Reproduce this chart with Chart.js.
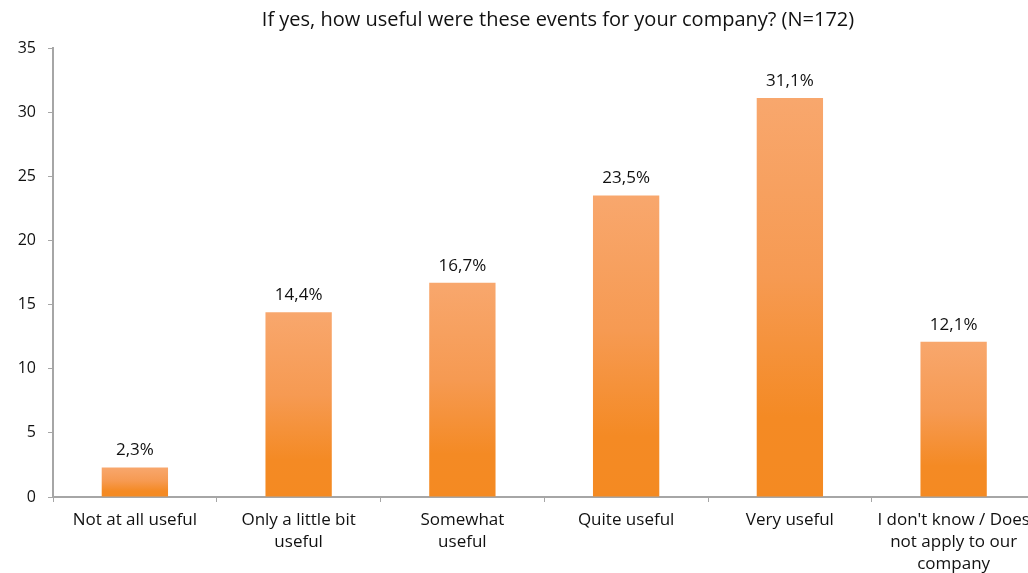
<!DOCTYPE html>
<html>
<head>
<meta charset="utf-8">
<script src="https://cdn.jsdelivr.net/npm/chart.js@4/dist/chart.umd.min.js"></script>
<style>
  html, body { margin: 0; padding: 0; background: #fff; overflow: hidden; }
  #wrap { width: 1040px; height: 573px; }
</style>
</head>
<body>
<div id="wrap"><canvas id="usefulChart" width="1040" height="573"></canvas></div>
<script>
const categories = [
    'Not at all useful',
    ['Only a little bit', 'useful'],
    ['Somewhat', 'useful'],
    'Quite useful',
    'Very useful',
    ['I don\'t know / Does', 'not apply to our', 'company']
];
const shares = [2.3, 14.4, 16.7, 23.5, 31.1, 12.1];
const yTicks = [0, 5, 10, 15, 20, 25, 30, 35];

const chartTitle = 'If yes, how useful were these events for your company? (N=172)';
const fontFamily = '"Open Sans", "Noto Sans", sans-serif';

// orange bars, lighter at the top of each bar
function barGradient(context) {
    const chart = context.chart;
    if (!chart.chartArea) return '#F48A22';
    const y = chart.scales.y;
    const top = y.getPixelForValue(context.raw);
    const bottom = y.getPixelForValue(0);
    const g = chart.ctx.createLinearGradient(0, top, 0, bottom);
    g.addColorStop(0, '#F8A76D');
    g.addColorStop(0.45, '#F69A52');
    g.addColorStop(0.8, '#F48A24');
    g.addColorStop(1, '#F48A22');
    return g;
}

// title drawn by hand, a bit right of the plot centre
const titlePlugin = {
    id: 'topTitle',
    afterDraw: function (chart) {
        const ctx = chart.ctx;
        ctx.save();
        ctx.font = '20px ' + fontFamily;
        ctx.fillStyle = '#111';
        ctx.textAlign = 'center';
        ctx.textBaseline = 'middle';
        ctx.fillText(chartTitle, 558, 20);
        ctx.restore();
    }
};

// percentage above each bar
const valueLabels = {
    id: 'valueLabels',
    afterDatasetsDraw: function (chart) {
        const ctx = chart.ctx;
        const meta = chart.getDatasetMeta(0);
        ctx.save();
        ctx.font = '17px ' + fontFamily;
        ctx.fillStyle = '#111';
        ctx.textAlign = 'center';
        ctx.textBaseline = 'middle';
        meta.data.forEach((bar, i) => {
            const txt = shares[i].toFixed(1).replace('.', ',') + '%';
            ctx.fillText(txt, bar.x, bar.y - 17);
        });
        ctx.restore();
    }
};

new Chart(document.getElementById('usefulChart'), {
    type: 'bar',
    data: {
        labels: categories,
        datasets: [{
            data: shares,
            backgroundColor: barGradient,
            borderWidth: 0,
            categoryPercentage: 1,
            barPercentage: 0.405
        }]
    },
    options: {
        responsive: false,
        animation: false,
        layout: {
            padding: { top: 48, right: 4.5, left: 0, bottom: 0 }
        },
        plugins: {
            legend: { display: false },
            title: { display: false },
            tooltip: { enabled: false }
        },
        scales: {
            x: {
                grid: {
                    display: true,
                    drawOnChartArea: false,
                    drawTicks: true,
                    tickLength: 5,
                    color: '#A6A6A6',
                    offset: true
                },
                border: { color: '#A6A6A6', width: 2 },
                ticks: {
                    color: '#111',
                    maxRotation: 0,
                    autoSkip: false,
                    padding: 7,
                    font: { family: fontFamily, size: 17, lineHeight: 1.3 }
                },
                afterFit: function (scale) { scale.height = 76; }
            },
            y: {
                min: 0,
                max: 35,
                afterBuildTicks: function (scale) {
                    scale.ticks = yTicks.map(v => ({ value: v }));
                },
                grid: {
                    display: true,
                    drawOnChartArea: false,
                    drawTicks: true,
                    tickLength: 5,
                    color: '#A6A6A6'
                },
                border: { color: '#A6A6A6', width: 2 },
                ticks: {
                    color: '#111',
                    padding: 12,
                    font: { family: fontFamily, size: 16 }
                },
                afterFit: function (scale) { scale.width = 53; }
            }
        }
    },
    plugins: [titlePlugin, valueLabels]
});
</script>
</body>
</html>
